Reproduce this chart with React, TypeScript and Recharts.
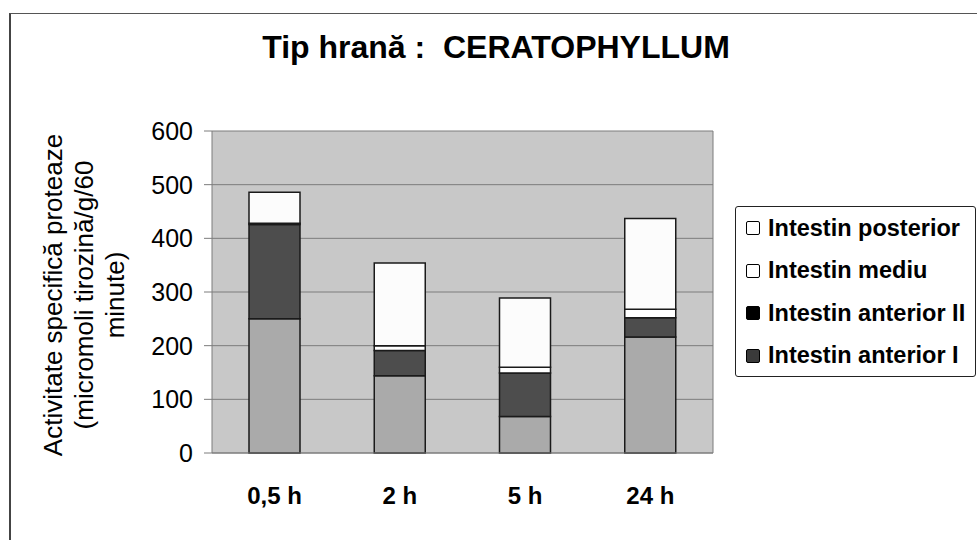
import React from 'react';
import { BarChart, Bar, XAxis, YAxis, CartesianGrid } from 'recharts';

// Time points after feeding
const categories = ['0,5 h', '2 h', '5 h', '24 h'];

// Protease activity per intestine segment (stacked, bottom to top)
const anteriorI = [250, 144, 68, 216];
const anteriorII = [176, 47, 81, 36];
const mediu = [2, 9, 11, 16];
const posterior = [58, 154, 129, 169];

const yTicks = [0, 100, 200, 300, 400, 500, 600];

const series = [
  { key: 'anteriorI', name: 'Intestin anterior I', fill: '#aaaaaa', swatch: '#3a3a3a' },
  { key: 'anteriorII', name: 'Intestin anterior II', fill: '#4d4d4d', swatch: '#000000' },
  { key: 'mediu', name: 'Intestin mediu', fill: '#ffffff', swatch: '#ffffff' },
  { key: 'posterior', name: 'Intestin posterior', fill: '#fcfcfc', swatch: '#ffffff' },
];

const data = categories.map((name, i) => ({
  name,
  anteriorI: anteriorI[i],
  anteriorII: anteriorII[i],
  mediu: mediu[i],
  posterior: posterior[i],
}));

const FONT = '"Liberation Sans", Arial, sans-serif';

// Legend box drawn beside the chart, in reversed (top-of-stack first) order
function LegendBox() {
  const items = [...series].reverse();
  return (
    <div
      style={{
        position: 'absolute',
        left: 735,
        top: 206,
        width: 241,
        height: 171,
        boxSizing: 'border-box',
        border: '1.5px solid #222',
        borderRadius: 3,
        background: '#fff',
        fontFamily: FONT,
        fontWeight: 'bold',
        fontSize: 23.5,
        color: '#000',
      }}
    >
      {items.map((item) => (
        <div
          key={item.key}
          style={{ height: 42.5, display: 'flex', alignItems: 'center', paddingLeft: 10 }}
        >
          <span
            style={{
              display: 'inline-block',
              width: 12,
              height: 12,
              border: '1.5px solid #000',
              borderRadius: 2,
              background: item.swatch,
              marginRight: 8,
            }}
          />
          <span style={{ whiteSpace: 'nowrap' }}>{item.name}</span>
        </div>
      ))}
    </div>
  );
}

export default function App() {
  return (
    <div style={{ position: 'absolute', left: 0, top: 0, width: 977, height: 540, background: '#fff' }}>
      {/* outer chart frame */}
      <div style={{ position: 'absolute', left: 9, top: 13, width: 968, height: 527, borderLeft: '2px solid #444', borderTop: '1.5px solid #555' }} />
      <BarChart
        width={977}
        height={540}
        data={data}
        margin={{ top: 131, right: 264, bottom: 47, left: 152 }}
        barSize={51}
        style={{ position: 'absolute', left: 0, top: 0 }}
      >
        <CartesianGrid
          fill="#c8c8c8"
          stroke="#7c7c7c"
          verticalCoordinatesGenerator={({ offset }: any) => [offset.left + offset.width]}
        />
        <XAxis
          dataKey="name"
          tickLine={false}
          tickSize={0}
          tickMargin={34}
          height={40}
          axisLine={{ stroke: '#7c7c7c' }}
          tick={{ fontSize: 24, fontWeight: 'bold', fill: '#000', fontFamily: FONT }}
        />
        <YAxis
          domain={[0, 600]}
          ticks={yTicks}
          width={60}
          tickSize={8}
          tickMargin={11}
          interval={0}
          axisLine={{ stroke: '#7c7c7c' }}
          tickLine={{ stroke: '#7c7c7c' }}
          tick={{ fontSize: 25, fill: '#000', fontFamily: FONT }}
        />
        {series.map((s) => (
          <Bar
            key={s.key}
            dataKey={s.key}
            name={s.name}
            stackId="a"
            fill={s.fill}
            stroke="#1a1a1a"
            strokeWidth={1.5}
            isAnimationActive={false}
          />
        ))}
      </BarChart>
      <LegendBox />
      <svg width={977} height={540} style={{ position: 'absolute', left: 0, top: 0, pointerEvents: 'none' }}>
        <text x={496} y={58} textAnchor="middle" fontFamily={FONT} fontWeight="bold" fontSize={32} fill="#000" style={{ whiteSpace: 'pre' }}>
          {'Tip hrană :  CERATOPHYLLUM'}
        </text>
        <g transform="translate(84, 295) rotate(-90)" fontFamily={FONT} fontSize={26} fill="#000" textAnchor="middle">
          <text x={0} y={-22}>Activitate specifică proteaze</text>
          <text x={0} y={9}>(micromoli tirozină/g/60</text>
          <text x={0} y={40}>minute)</text>
        </g>
      </svg>
    </div>
  );
}
